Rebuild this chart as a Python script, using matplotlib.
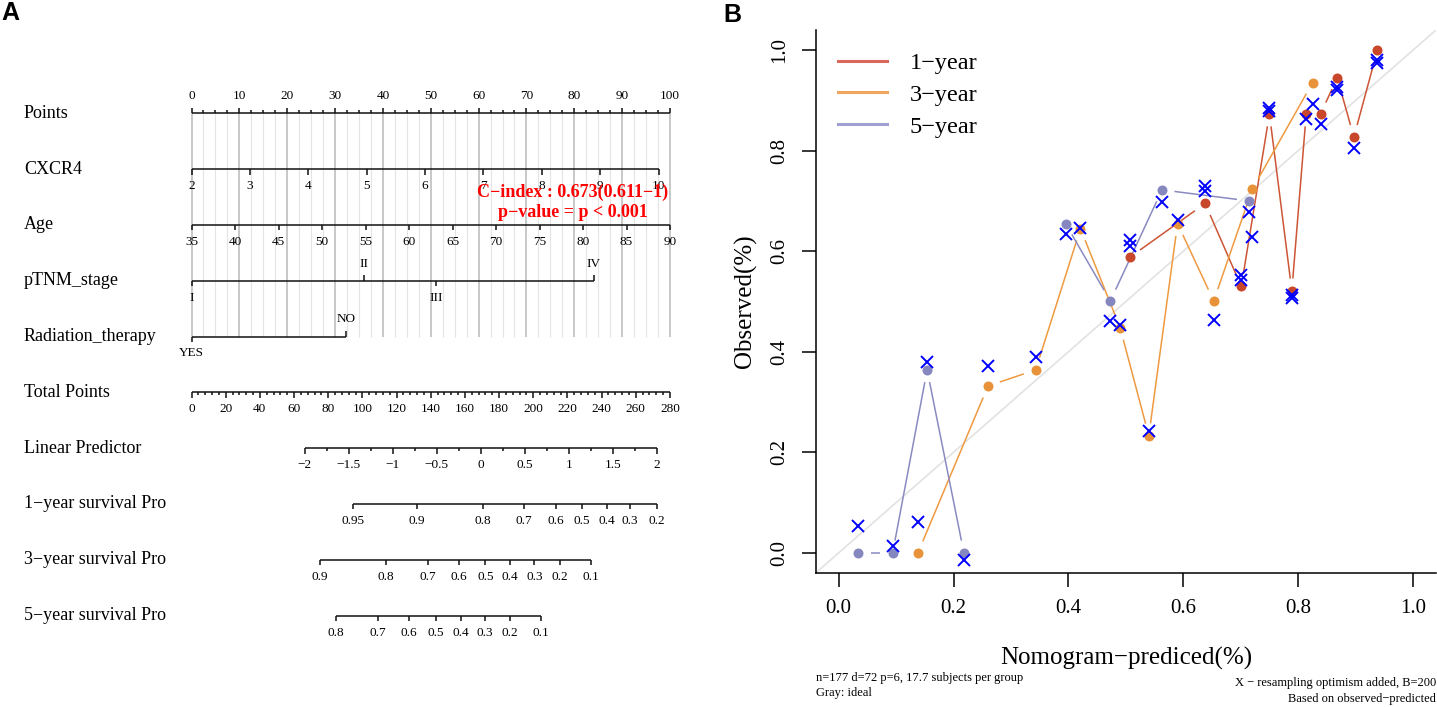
import numpy as np
import matplotlib
matplotlib.use('Agg')
import matplotlib.pyplot as plt
from matplotlib.collections import LineCollection
from matplotlib.lines import Line2D

# ---------------- data: nomogram (panel A) ----------------
row_names = ['Points', 'CXCR4', 'Age', 'pTNM_stage', 'Radiation_therapy',
             'Total Points', 'Linear Predictor', '1\u2212year survival Pro',
             '3\u2212year survival Pro', '5\u2212year survival Pro']
points_range = (0, 100)
cxcr4_range = (2, 10)
cxcr4_points_range = (0, 97.6)
age_range = (35, 90)
age_points_range = (0, 100)
ptnm_levels = ['I', 'II', 'III', 'IV']
ptnm_points = [0, 36.0, 51.1, 84.1]
ptnm_label_above = [False, True, False, True]
rad_levels = ['YES', 'NO']
rad_points = [0, 32.3]
rad_label_above = [False, True]
total_points_range = (0, 280)
lp_range = (-2, 2)
lp_total_points = (66.2, 272.2)
surv1_probs = [0.95, 0.9, 0.8, 0.7, 0.6, 0.5, 0.4, 0.3, 0.2]
surv1_tp = [94.6, 131.7, 170.5, 194.7, 213.0, 228.6, 243.0, 256.5, 272.2]
surv3_probs = [0.9, 0.8, 0.7, 0.6, 0.5, 0.4, 0.3, 0.2, 0.1]
surv3_tp = [75.3, 113.7, 138.2, 156.4, 172.0, 186.4, 200.7, 215.6, 233.8]
surv5_probs = [0.8, 0.7, 0.6, 0.5, 0.4, 0.3, 0.2, 0.1]
surv5_tp = [84.7, 109.0, 127.2, 142.9, 157.5, 171.8, 186.4, 204.7]
cindex_text = 'C\u2212index : 0.673(0.611\u22121)'
pvalue_text = 'p\u2212value = p < 0.001'

# ---------------- data: calibration (panel B) ----------------
pred_1y = [0.507, 0.638, 0.701, 0.750, 0.789, 0.814, 0.839, 0.868, 0.897, 0.938]
obs_1y = [0.588, 0.695, 0.530, 0.873, 0.521, 0.873, 0.873, 0.945, 0.827, 1.000]
corr_1y = [0.610, 0.720, 0.543, 0.879, 0.507, 0.863, 0.853, 0.920, 0.805, 0.975]
corr_1y_b = [0.623, 0.730, 0.553, 0.885, 0.513, np.nan, np.nan, 0.927, np.nan, 0.980]

pred_3y = [0.138, 0.260, 0.343, 0.421, 0.490, 0.540, 0.590, 0.653, 0.720, 0.825]
obs_3y = [0.000, 0.332, 0.364, 0.645, 0.448, 0.233, 0.655, 0.501, 0.723, 0.935]
corr_3y = [0.062, 0.371, 0.389, 0.647, 0.453, 0.243, 0.662, 0.463, 0.628, 0.893]

pred_5y = [0.034, 0.094, 0.154, 0.218, 0.395, 0.473, 0.563, 0.715]
obs_5y = [0.000, 0.000, 0.364, 0.000, 0.655, 0.501, 0.722, 0.700]
corr_5y = [0.053, 0.013, 0.379, -0.015, 0.635, 0.461, 0.697, 0.679]
break_5y_after = [3]

series_labels = ['1\u2212year', '3\u2212year', '5\u2212year']
line_colors = ['#CC5535', '#EE9A40', '#8A8AC2']
dot_colors = ['#C8472A', '#E8933A', '#8787BF']
legend_colors = ['#D8695C', '#F0A65C', '#A0A0D4']

x_ticks_B = [0.0, 0.2, 0.4, 0.6, 0.8, 1.0]
y_ticks_B = [0.0, 0.2, 0.4, 0.6, 0.8, 1.0]
footnote_left = ['n=177 d=72 p=6, 17.7 subjects per group', 'Gray: ideal']
footnote_right = ['X \u2212 resampling optimism added, B=200', 'Based on observed\u2212predicted']

# ---------------- figure ----------------
W, H = 1437, 707
plt.rcParams['font.family'] = ['Liberation Serif', 'DejaVu Serif']
fig = plt.figure(figsize=(W / 100, H / 100), dpi=100)

# ======== Panel A ========
PPX = (670 - 191.5) / 100.0          # pixels per point
X0 = -191.5 / PPX
AW = 715
axA = fig.add_axes([0, 0, AW / W, 1])
axA.set_xlim(X0, X0 + AW / PPX)
axA.set_ylim(H, 0)
axA.axis('off')

row_y = [113.3 + i * 55.8 for i in range(10)]
LW = 1.1
TICK = 5.5
TICK_MINOR = 3.0
LABOFF = 17.0
TFS = 9.5


def px2x(px):
    return (px - 191.5) / PPX


def tp2pts(tp):
    return np.asarray(tp, dtype=float) * (points_range[1] - points_range[0]) / (total_points_range[1] - total_points_range[0])


def lin(vals, vrange, prange):
    v = np.asarray(vals, dtype=float)
    return prange[0] + (v - vrange[0]) / (vrange[1] - vrange[0]) * (prange[1] - prange[0])


def fmt(v):
    return ('%g' % v).replace('-', '\u2212')


def draw_scale(y, pos, labels, above, minor=None, minor_up=False):
    pos = list(pos)
    segs = [[(min(pos), y), (max(pos), y)]]
    for p, up in zip(pos, above):
        s = -1 if up else 1
        segs.append([(p, y), (p, y + s * TICK)])
    if minor is not None:
        s = -1 if minor_up else 1
        for p in minor:
            segs.append([(p, y), (p, y + s * TICK_MINOR)])
    axA.add_collection(LineCollection(segs, colors='#111111', linewidths=LW,
                                      capstyle='butt', zorder=3))
    for p, lab, up in zip(pos, labels, above):
        if lab is None:
            continue
        s = -1 if up else 1
        axA.text(p, y + s * LABOFF, lab, ha='center', va='center',
                 fontsize=TFS, zorder=4)


# grid lines
grid_top, grid_bot = row_y[0], row_y[4]
minor_grid = np.arange(points_range[0], points_range[1] + 0.01, 2.5)
major_grid = np.arange(points_range[0], points_range[1] + 0.01, 10)
axA.vlines([g for g in minor_grid if g % 10 != 0], grid_top, grid_bot,
           colors='#E4E4E4', linewidths=0.8, zorder=1)
axA.vlines(major_grid, grid_top, grid_bot, colors='#C4C4C4', linewidths=1.3, zorder=1)

# row labels
for y, name in zip(row_y, row_names):
    axA.text(px2x(24), y, name, ha='left', va='center', fontsize=13)

# Points
pt_major = np.arange(0, 101, 10)
pt_minor = [v for v in np.arange(0, 100.01, 2.5) if v % 10 != 0]
draw_scale(row_y[0], pt_major, [fmt(v) for v in pt_major], [True] * len(pt_major),
           minor=pt_minor, minor_up=True)

# CXCR4
cx_vals = np.arange(cxcr4_range[0], cxcr4_range[1] + 1, 1)
draw_scale(row_y[1], lin(cx_vals, cxcr4_range, cxcr4_points_range),
           [fmt(v) for v in cx_vals], [False] * len(cx_vals))

# Age
age_vals = np.arange(age_range[0], age_range[1] + 1, 5)
draw_scale(row_y[2], lin(age_vals, age_range, age_points_range),
           [fmt(v) for v in age_vals], [False] * len(age_vals))

# pTNM stage
draw_scale(row_y[3], ptnm_points, ptnm_levels, ptnm_label_above)

# Radiation therapy
draw_scale(row_y[4], rad_points, rad_levels, rad_label_above)

# Total points
tp_major = np.arange(total_points_range[0], total_points_range[1] + 1, 20)
tp_minor = [v for v in np.arange(0, 280.01, 4) if v % 20 != 0]
draw_scale(row_y[5], tp2pts(tp_major), [fmt(v) for v in tp_major], [False] * len(tp_major),
           minor=tp2pts(tp_minor))

# Linear predictor
lp_major = np.arange(lp_range[0], lp_range[1] + 0.01, 0.5)
lp_minor = np.arange(lp_range[0] + 0.25, lp_range[1], 0.5)
draw_scale(row_y[6], tp2pts(lin(lp_major, lp_range, lp_total_points)),
           [fmt(v) for v in lp_major], [False] * len(lp_major),
           minor=tp2pts(lin(lp_minor, lp_range, lp_total_points)))

# survival scales
for r, probs, tps in [(7, surv1_probs, surv1_tp), (8, surv3_probs, surv3_tp),
                      (9, surv5_probs, surv5_tp)]:
    draw_scale(row_y[r], tp2pts(tps), [fmt(v) for v in probs], [False] * len(probs))

# C-index annotation
axA.text(px2x(572.7), 192.7, cindex_text, color='#FF0000', fontsize=13,
         fontweight='bold', ha='center', va='center', zorder=6)
axA.text(px2x(572.7), 212.7, pvalue_text, color='#FF0000', fontsize=13,
         fontweight='bold', ha='center', va='center', zorder=6)

# ======== Panel B ========
L, R, T, B = 815.7, 1436.0, 30.0, 573.0
axB = fig.add_axes([L / W, 1 - B / H, (R - L) / W, (B - T) / H])
axB.set_xlim(-0.04, 1.04)
axB.set_ylim(-0.04, 1.04)
for s in ['top', 'right']:
    axB.spines[s].set_visible(False)
for s in ['left', 'bottom']:
    axB.spines[s].set_linewidth(1.1)
axB.set_xticks(x_ticks_B)
axB.set_yticks(y_ticks_B)
axB.set_xticklabels(['%.1f' % v for v in x_ticks_B])
axB.set_yticklabels(['%.1f' % v for v in y_ticks_B])
axB.tick_params(direction='out', length=10, width=1.1, labelsize=15, pad=9)
for lab in axB.get_yticklabels():
    lab.set_rotation(90)
    lab.set_va('center')

axB.axline((0, 0), (1, 1), color='#E2E2E2', lw=1.2, zorder=1)

GAP = 12.5


def gapped_segments(ax, xs, ys, gap_px, breaks=()):
    Tr = ax.transData
    P = Tr.transform(np.column_stack([xs, ys]))
    inv = Tr.inverted()
    segs = []
    for i in range(len(xs) - 1):
        if i in breaks:
            continue
        p0, p1 = P[i], P[i + 1]
        d = p1 - p0
        Ln = np.hypot(d[0], d[1])
        if Ln <= 2 * gap_px:
            continue
        u = d / Ln
        segs.append(inv.transform(np.array([p0 + u * gap_px, p1 - u * gap_px])))
    return segs


series = [(pred_1y, obs_1y, [corr_1y, corr_1y_b], []),
          (pred_3y, obs_3y, [corr_3y], []),
          (pred_5y, obs_5y, [corr_5y], break_5y_after)]

for k, (px_, ob, corrs, brk) in enumerate(series):
    segs = gapped_segments(axB, px_, ob, GAP, brk)
    axB.add_collection(LineCollection(segs, colors=line_colors[k], linewidths=1.1, zorder=2))
for k, (px_, ob, corrs, brk) in enumerate(series):
    axB.plot(px_, ob, 'o', color=dot_colors[k], markersize=7.2, markeredgewidth=0, zorder=3)
for k, (px_, ob, corrs, brk) in enumerate(series):
    for c in corrs:
        axB.plot(px_, c, 'x', color='#0000FF', markersize=8, markeredgewidth=1.4, zorder=4)

handles = [Line2D([0], [0], color=c, lw=2.2) for c in legend_colors]
axB.legend(handles, series_labels, loc='upper left',
           bbox_to_anchor=(5.5 / (R - L), 1 - 5.0 / (B - T)),
           frameon=False, fontsize=17.5, handlelength=2.0, handletextpad=0.95,
           labelspacing=0.4, borderaxespad=0.4, borderpad=0.3)

fig.text((L + R) / 2 / W, 1 - 658 / H, 'Nomogram\u2212prediced(%)', ha='center', va='center',
         fontsize=18)
fig.text(745 / W, 1 - (T + B) / 2 / H, 'Observed(%)', ha='center', va='center',
         rotation=90, fontsize=18)
fig.text(L / W, 1 - 678 / H, footnote_left[0], ha='left', va='center', fontsize=9)
fig.text(L / W, 1 - 693 / H, footnote_left[1], ha='left', va='center', fontsize=9)
fig.text(1436 / W, 1 - 683 / H, footnote_right[0], ha='right', va='center', fontsize=9)
fig.text(1436 / W, 1 - 699 / H, footnote_right[1], ha='right', va='center', fontsize=9)

# panel letters
fig.text(10.5 / W, 1 - 13.5 / H, 'A', family='Liberation Sans', fontweight='bold',
         fontsize=18, ha='center', va='center')
fig.text(732 / W, 1 - 14.5 / H, 'B', family='Liberation Sans', fontweight='bold',
         fontsize=18, ha='center', va='center')

fig.savefig('out.png', dpi=100)
